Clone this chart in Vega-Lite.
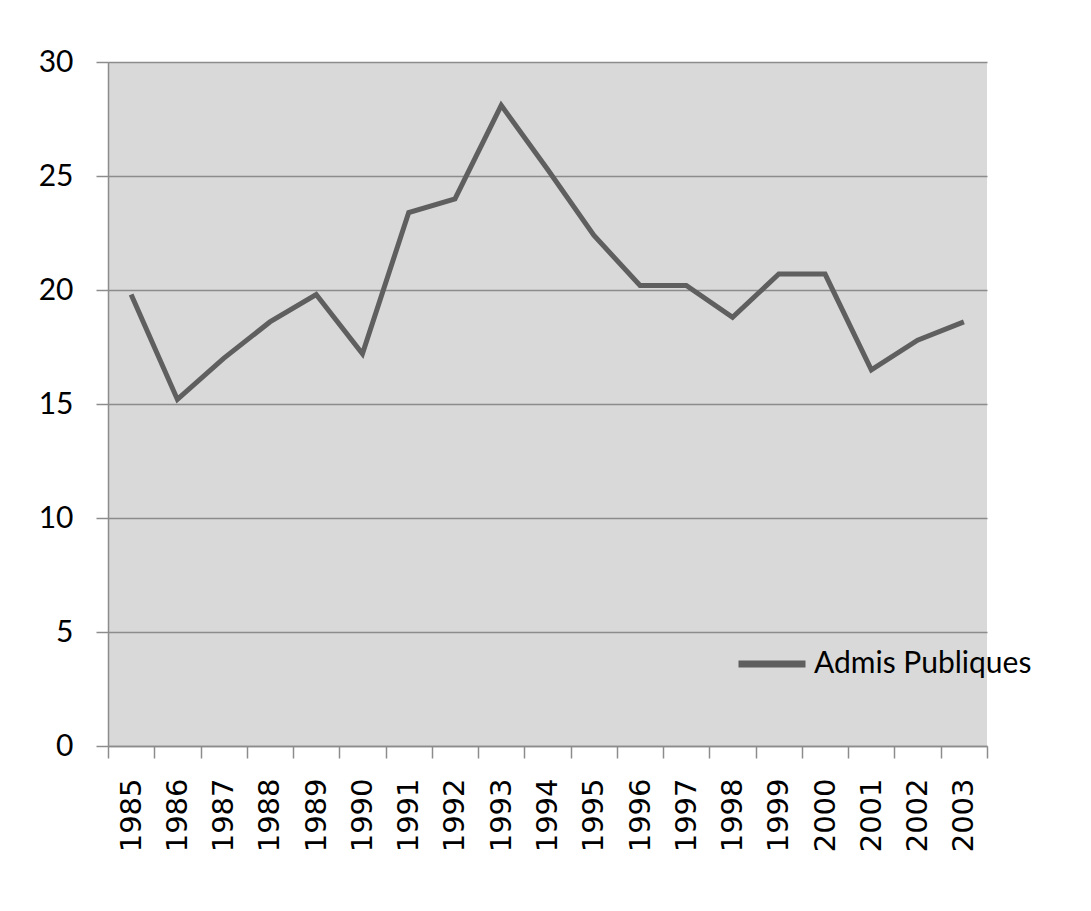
{
  "$schema": "https://vega.github.io/schema/vega-lite/v6.json",
  "autosize": "none",
  "width": 879,
  "height": 684,
  "padding": {"left": 108, "top": 62, "right": 104, "bottom": 165},
  "background": "#ffffff",
  "config": {
    "view": {"fill": "#d9d9d9", "stroke": null},
    "axis": {
      "domainColor": "#8c8c8c",
      "domainWidth": 1.5,
      "tickColor": "#8c8c8c",
      "tickWidth": 1.5,
      "tickSize": 12,
      "gridColor": "#8c8c8c",
      "gridWidth": 1.5,
      "labelColor": "#000000",
      "title": null
    }
  },
  "data": {
    "values": [
      {"annee": "1985", "serie": "Admis Publiques", "valeur": 19.8},
      {"annee": "1986", "serie": "Admis Publiques", "valeur": 15.2},
      {"annee": "1987", "serie": "Admis Publiques", "valeur": 17.0},
      {"annee": "1988", "serie": "Admis Publiques", "valeur": 18.6},
      {"annee": "1989", "serie": "Admis Publiques", "valeur": 19.8},
      {"annee": "1990", "serie": "Admis Publiques", "valeur": 17.2},
      {"annee": "1991", "serie": "Admis Publiques", "valeur": 23.4},
      {"annee": "1992", "serie": "Admis Publiques", "valeur": 24.0},
      {"annee": "1993", "serie": "Admis Publiques", "valeur": 28.1},
      {"annee": "1994", "serie": "Admis Publiques", "valeur": 25.3},
      {"annee": "1995", "serie": "Admis Publiques", "valeur": 22.4},
      {"annee": "1996", "serie": "Admis Publiques", "valeur": 20.2},
      {"annee": "1997", "serie": "Admis Publiques", "valeur": 20.2},
      {"annee": "1998", "serie": "Admis Publiques", "valeur": 18.8},
      {"annee": "1999", "serie": "Admis Publiques", "valeur": 20.7},
      {"annee": "2000", "serie": "Admis Publiques", "valeur": 20.7},
      {"annee": "2001", "serie": "Admis Publiques", "valeur": 16.5},
      {"annee": "2002", "serie": "Admis Publiques", "valeur": 17.8},
      {"annee": "2003", "serie": "Admis Publiques", "valeur": 18.6}
    ]
  },
  "mark": {"type": "line", "strokeWidth": 5, "strokeJoin": "miter", "strokeCap": "butt"},
  "encoding": {
    "x": {
      "field": "annee",
      "type": "ordinal",
      "scale": {"type": "band", "paddingInner": 0, "paddingOuter": 0},
      "axis": {
        "tickBand": "extent",
        "labelAngle": -90,
        "labelAlign": "right",
        "labelBaseline": "middle",
        "labelPadding": 20,
        "labelFont": "DejaVu Sans",
        "labelFontSize": 29,
        "grid": false
      }
    },
    "y": {
      "field": "valeur",
      "type": "quantitative",
      "scale": {"domain": [0, 30], "nice": false, "zero": true},
      "axis": {
        "values": [0, 5, 10, 15, 20, 25, 30],
        "grid": true,
        "labelPadding": 23,
        "labelFont": "Lato",
        "labelFontSize": 30
      }
    },
    "color": {
      "field": "serie",
      "type": "nominal",
      "scale": {"domain": ["Admis Publiques"], "range": ["#5f5f5f"]},
      "legend": {
        "title": null,
        "orient": "none",
        "legendX": 627,
        "legendY": 565,
        "symbolType": "stroke",
        "symbolSize": 4489,
        "symbolStrokeWidth": 7,
        "labelOffset": 5,
        "labelFont": "Lato",
        "labelFontSize": 30,
        "labelColor": "#000000",
        "labelLimit": 400
      }
    }
  }
}
